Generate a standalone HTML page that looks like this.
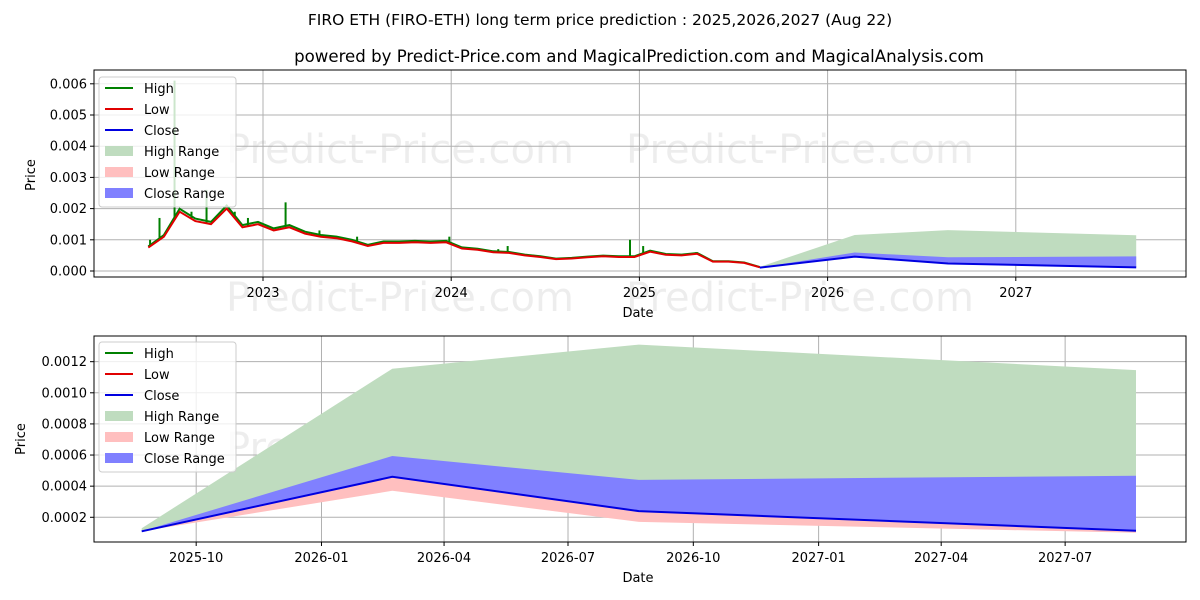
<!DOCTYPE html>
<html><head><meta charset="utf-8"><style>
body{margin:0;background:#fff;}
svg{display:block;font-family:"DejaVu Sans","Liberation Sans",sans-serif;}
</style></head><body>
<svg id="chart" width="1200" height="600" viewBox="0 0 1200 600" xmlns="http://www.w3.org/2000/svg">
<rect width="1200" height="600" fill="#fff"/>
<text x="600" y="25" text-anchor="middle" font-size="15.5">FIRO ETH (FIRO-ETH) long term price prediction : 2025,2026,2027 (Aug 22)</text>
<text x="639" y="62" text-anchor="middle" font-size="16.6">powered by Predict-Price.com and MagicalPrediction.com and MagicalAnalysis.com</text>
<g id="topPanel"></g>
<g id="botPanel"></g>
</svg>
<script>
// ---- data ----
const histStartYear = 2022, histStartMonth = 4; // May 2022
const lowMonthly = [0.00075,0.0011,0.0019,0.0016,0.0015,0.0020,0.0014,0.0015,0.0013,0.0014,0.0012,0.0011,0.00105,0.00095,0.0008,0.0009,0.0009,0.00092,0.0009,0.00092,0.00072,0.00068,0.0006,0.00058,0.0005,0.00045,0.00038,0.0004,0.00044,0.00047,0.00045,0.00045,0.00062,0.00052,0.0005,0.00055,0.0003,0.0003,0.00026,0.00012];
const highSpikeDates = [2022.40,2022.45,2022.53,2022.62,2022.70,2022.85,2022.92,2023.12,2023.30,2023.50,2023.99,2024.25,2024.30,2024.95,2025.02,2025.30];
const highSpikeValues = [0.0010,0.0017,0.0061,0.0019,0.0026,0.0019,0.0017,0.0022,0.0013,0.0011,0.0011,0.0007,0.0008,0.0010,0.0008,0.0006];
const fcDays = [0,184,365,730];
const fcHigh = [0.00013,0.001155,0.00131,0.001146];
const fcCloseTop = [0.00011,0.000594,0.00044,0.000467];
const fcClose = [0.00011,0.00046,0.00024,0.000114];
const fcLowBottom = [0.00011,0.00037,0.00017,0.0001];
const topYTicks = [0,0.001,0.002,0.003,0.004,0.005,0.006];
const topYLabels = ["0.000","0.001","0.002","0.003","0.004","0.005","0.006"];
const topXTicks = [2023,2024,2025,2026,2027];
const botYTicks = [0.0002,0.0004,0.0006,0.0008,0.0010,0.0012];
const botYLabels = ["0.0002","0.0004","0.0006","0.0008","0.0010","0.0012"];
const botXTickDays = [40,132,222,313,405,497,587,678];
const botXLabels = ["2025-10","2026-01","2026-04","2026-07","2026-10","2027-01","2027-04","2027-07"];
const fcStartYear = 2025.64;

const NS="http://www.w3.org/2000/svg";
function mk(p,tag,attrs,txt){const e=document.createElementNS(NS,tag);for(const k in attrs)e.setAttribute(k,attrs[k]);if(txt!==undefined)e.textContent=txt;p.appendChild(e);return e;}

const TP={L:94,R:1186,Tp:70,B:277};
const BP={L:94,R:1186,Tp:336,B:542};
const tx=t=>263+(t-2023)*188.2;
const ty=v=>271-v*31200;
const bx=d=>141.7+d*1.362;
const by=v=>548.4-v*155600;

function watermark(g,ys){
  ys.forEach(y=>{[400,800].forEach(x=>{
    const w=mk(g,'text',{x:x,y:y,'text-anchor':'middle','font-size':40,fill:'rgba(0,0,0,0.07)'},'Predict-Price.com');
    
    
  });});
}
function legend(g,x,y){
  const box=mk(g,'rect',{x:x,y:y,width:137,height:130,rx:3,fill:'rgba(255,255,255,0.8)',stroke:'#ccc'});
  
  
  const items=[['High','line','#008000'],['Low','line','#e00000'],['Close','line','#0000e0'],['High Range','rect','#bfdcbf'],['Low Range','rect','#ffbfbf'],['Close Range','rect','#8080ff']];
  items.forEach((it,i)=>{
    const cy=y+11+i*21;
    if(it[1]==='line') mk(g,'line',{x1:x+6,x2:x+34,y1:cy,y2:cy,stroke:it[2],'stroke-width':2});
    else mk(g,'rect',{x:x+6,y:cy-5,width:28,height:10,fill:it[2]});
    const t=mk(g,'text',{x:x+45,y:cy+5,'font-size':13},it[0]);
    
    
  });
}
function poly(pts){return pts.map(p=>p[0].toFixed(1)+','+p[1].toFixed(1)).join(' ');}

// ---- top panel ----
const topG=document.getElementById('topPanel');
watermark(topG,[163,311]);
topYTicks.forEach((v,i)=>{
  mk(topG,'line',{x1:TP.L,x2:TP.R,y1:ty(v),y2:ty(v),stroke:'#b0b0b0','stroke-width':1});
  mk(topG,'line',{x1:TP.L-4,x2:TP.L,y1:ty(v),y2:ty(v),stroke:'#000'});
  const l=mk(topG,'text',{x:TP.L-7,y:ty(v)+4.5,'text-anchor':'end','font-size':13},topYLabels[i]);
  
  
});
topXTicks.forEach(t=>{
  mk(topG,'line',{x1:tx(t),x2:tx(t),y1:TP.Tp,y2:TP.B,stroke:'#b0b0b0'});
  mk(topG,'line',{x1:tx(t),x2:tx(t),y1:TP.B,y2:TP.B+4,stroke:'#000'});
  const l=mk(topG,'text',{x:tx(t),y:TP.B+20,'text-anchor':'middle','font-size':13},String(t));
  
  
});
const hd=lowMonthly.map((v,m)=>histStartYear+(histStartMonth+m)/12+0.057);
function lowAt(t){for(let i=0;i<hd.length-1;i++){if(t>=hd[i]&&t<=hd[i+1]){const f=(t-hd[i])/(hd[i+1]-hd[i]);return lowMonthly[i]+f*(lowMonthly[i+1]-lowMonthly[i]);}}return lowMonthly[0];}
const fcT=fcDays.map(d=>fcStartYear+d/365);
mk(topG,'polygon',{points:poly(fcT.map((t,i)=>[tx(t),ty(fcHigh[i])]).concat(fcT.map((t,i)=>[tx(t),ty(fcClose[i])]).reverse())),fill:'#bfdcbf'});
mk(topG,'polygon',{points:poly(fcT.map((t,i)=>[tx(t),ty(fcCloseTop[i])]).concat(fcT.map((t,i)=>[tx(t),ty(fcClose[i])]).reverse())),fill:'#8080ff'});
const hl=mk(topG,'polyline',{points:poly(hd.map((t,i)=>[tx(t),ty(lowMonthly[i]*1.05)])),fill:'none',stroke:'#008000','stroke-width':2});


highSpikeDates.forEach((t,i)=>{
  const s=mk(topG,'line',{x1:tx(t),x2:tx(t),y1:ty(lowAt(t)),y2:ty(highSpikeValues[i]),stroke:'#008000','stroke-width':2});
  
  
});
const ll=mk(topG,'polyline',{points:poly(hd.map((t,i)=>[tx(t),ty(lowMonthly[i])])),fill:'none',stroke:'#e00000','stroke-width':2});


const tc=mk(topG,'polyline',{points:poly(fcT.map((t,i)=>[tx(t),ty(fcClose[i])])),fill:'none',stroke:'#0000e0','stroke-width':2});


mk(topG,'rect',{x:TP.L,y:TP.Tp,width:TP.R-TP.L,height:TP.B-TP.Tp,fill:'none',stroke:'#000'});
legend(topG,99,77);
const yt1=mk(topG,'text',{x:35,y:175,'text-anchor':'middle','font-size':13,transform:'rotate(-90 35 175)'},'Price');


const xt1=mk(topG,'text',{x:638,y:317,'text-anchor':'middle','font-size':13},'Date');



// ---- bottom panel ----
const botG=document.getElementById('botPanel');
watermark(botG,[461]);
botYTicks.forEach((v,i)=>{
  mk(botG,'line',{x1:BP.L,x2:BP.R,y1:by(v),y2:by(v),stroke:'#b0b0b0'});
  mk(botG,'line',{x1:BP.L-4,x2:BP.L,y1:by(v),y2:by(v),stroke:'#000'});
  const l=mk(botG,'text',{x:BP.L-7,y:by(v)+4.5,'text-anchor':'end','font-size':13},botYLabels[i]);
  
  
});
botXTickDays.forEach((d,i)=>{
  mk(botG,'line',{x1:bx(d),x2:bx(d),y1:BP.Tp,y2:BP.B,stroke:'#b0b0b0'});
  mk(botG,'line',{x1:bx(d),x2:bx(d),y1:BP.B,y2:BP.B+4,stroke:'#000'});
  const l=mk(botG,'text',{x:bx(d),y:BP.B+20,'text-anchor':'middle','font-size':13},botXLabels[i]);
  
  
});
const g1=mk(botG,'polygon',{points:poly(fcDays.map((d,i)=>[bx(d),by(fcHigh[i])]).concat(fcDays.map((d,i)=>[bx(d),by(fcClose[i])]).reverse())),fill:'#bfdcbf'});


const p1=mk(botG,'polygon',{points:poly(fcDays.map((d,i)=>[bx(d),by(fcClose[i])]).concat(fcDays.map((d,i)=>[bx(d),by(fcLowBottom[i])]).reverse())),fill:'#ffbfbf'});


const b1=mk(botG,'polygon',{points:poly(fcDays.map((d,i)=>[bx(d),by(fcCloseTop[i])]).concat(fcDays.map((d,i)=>[bx(d),by(fcClose[i])]).reverse())),fill:'#8080ff'});


const c1=mk(botG,'polyline',{points:poly(fcDays.map((d,i)=>[bx(d),by(fcClose[i])])),fill:'none',stroke:'#0000e0','stroke-width':2});


mk(botG,'rect',{x:BP.L,y:BP.Tp,width:BP.R-BP.L,height:BP.B-BP.Tp,fill:'none',stroke:'#000'});
legend(botG,99,342);
const yt2=mk(botG,'text',{x:25,y:439,'text-anchor':'middle','font-size':13,transform:'rotate(-90 25 439)'},'Price');


const xt2=mk(botG,'text',{x:638,y:582,'text-anchor':'middle','font-size':13},'Date');


</script>
</body></html>
